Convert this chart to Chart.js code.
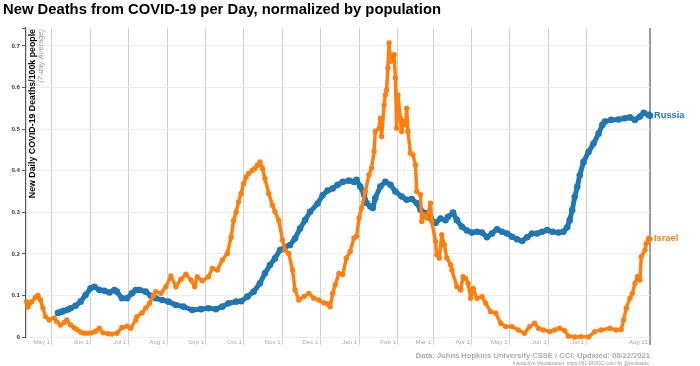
<!DOCTYPE html>
<html>
<head>
<meta charset="utf-8">
<script src="https://cdn.jsdelivr.net/npm/chart.js@4/dist/chart.umd.min.js"></script>
<style>
  html, body { margin: 0; padding: 0; background: #ffffff; }
  #wrap { width: 700px; height: 366px; position: relative; }
</style>
</head>
<body>
<div id="wrap"><canvas id="c" width="700" height="366"></canvas></div>
<script>
// Day offsets are days since 2020-05-01 (May 1, 2020 = 0)
const START_DATE = '2020-05-01';

const monthTickDays   = [0, 31, 61, 92, 123, 153, 184, 214, 245, 276, 304, 335, 365, 396, 426, 477];
const monthTickLabels = ['May 1','Jun 1','Jul 1','Aug 1','Sep 1','Oct 1','Nov 1','Dec 1','Jan 1','Feb 1','Mar 1','Apr 1','May 1','Jun 1','Jul 1','Aug 21'];

const russiaDays = [5,8,10,13,15,19,23,27,31,34,38,42,46,50,52,56,60,64,67,70,75,79,83,88,93,99,105,112,119,125,131,136,141,147,151,156,161,166,170,174,178,182,186,190,194,198,202,206,212,216,220,224,228,232,237,241,243,246,249,251,254,256,258,262,266,270,274,279,283,287,291,294,298,302,306,310,314,316,320,323,327,331,335,339,343,347,351,355,359,363,367,371,375,379,383,387,391,395,399,404,408,411,413,415,417,419,421,424,428,432,436,439,441,446,452,457,461,465,469,472,476,477];
const russiaValues = [0.058,0.061,0.063,0.066,0.069,0.075,0.085,0.101,0.117,0.121,0.113,0.111,0.107,0.113,0.109,0.093,0.093,0.105,0.113,0.113,0.109,0.099,0.093,0.089,0.085,0.077,0.073,0.065,0.067,0.069,0.067,0.073,0.081,0.085,0.086,0.097,0.109,0.129,0.153,0.173,0.189,0.209,0.217,0.221,0.237,0.261,0.281,0.301,0.321,0.341,0.352,0.357,0.366,0.373,0.376,0.373,0.378,0.362,0.342,0.322,0.314,0.310,0.334,0.362,0.373,0.366,0.350,0.338,0.330,0.332,0.322,0.306,0.298,0.286,0.274,0.285,0.281,0.289,0.299,0.281,0.265,0.256,0.251,0.253,0.251,0.240,0.249,0.259,0.253,0.249,0.241,0.235,0.231,0.240,0.249,0.249,0.253,0.257,0.253,0.251,0.253,0.264,0.281,0.305,0.337,0.361,0.389,0.421,0.445,0.465,0.489,0.510,0.518,0.522,0.523,0.526,0.528,0.522,0.530,0.539,0.534,0.532];

const israelDays = [-20,-19,-16,-13,-11,-9,-7,-5,-2,2,4,7,10,12,15,18,20,23,26,29,32,35,38,41,45,48,52,56,60,63,67,68,72,75,78,81,83,87,91,95,99,103,107,111,114,116,120,125,128,132,136,140,143,145,147,149,151,153,155,157,160,162,164,166,168,170,173,176,178,181,184,186,189,192,194,197,201,205,209,213,217,220,222,224,226,229,232,235,238,241,243,245,247,250,253,255,257,258,261,262,263,265,266,267,268,269,270,272,273,274,275,276,278,279,280,282,283,284,286,288,290,291,294,295,296,299,302,303,306,307,309,311,313,315,318,319,323,326,328,330,332,334,336,339,343,346,350,354,358,362,367,372,377,381,385,388,392,397,401,405,409,412,417,422,428,433,438,445,450,454,456,458,461,463,465,467,469,470,473,474,476,477];
const israelValues = [0.085,0.072,0.085,0.095,0.100,0.089,0.070,0.049,0.041,0.046,0.037,0.029,0.035,0.041,0.029,0.022,0.018,0.012,0.009,0.009,0.010,0.014,0.021,0.010,0.008,0.007,0.009,0.023,0.026,0.021,0.041,0.049,0.058,0.070,0.081,0.100,0.109,0.105,0.121,0.147,0.121,0.139,0.151,0.137,0.121,0.145,0.135,0.145,0.165,0.161,0.185,0.201,0.240,0.280,0.300,0.325,0.345,0.369,0.385,0.393,0.401,0.405,0.413,0.421,0.405,0.381,0.345,0.317,0.301,0.281,0.233,0.209,0.201,0.161,0.113,0.089,0.097,0.105,0.093,0.089,0.082,0.080,0.073,0.105,0.125,0.153,0.150,0.190,0.206,0.238,0.242,0.286,0.310,0.350,0.390,0.406,0.446,0.494,0.502,0.526,0.482,0.558,0.582,0.594,0.647,0.707,0.663,0.675,0.679,0.623,0.502,0.582,0.526,0.494,0.518,0.510,0.550,0.494,0.442,0.438,0.414,0.350,0.342,0.278,0.294,0.286,0.322,0.278,0.230,0.198,0.190,0.246,0.222,0.190,0.174,0.161,0.121,0.113,0.145,0.141,0.129,0.093,0.117,0.093,0.097,0.081,0.061,0.057,0.033,0.025,0.025,0.017,0.009,0.025,0.033,0.021,0.017,0.013,0.017,0.021,0.015,0.002,0.000,0.001,0.000,0.013,0.017,0.021,0.017,0.018,0.041,0.069,0.093,0.105,0.129,0.145,0.137,0.193,0.209,0.225,0.237,0.236];

const yTickValues = [0, 0.1, 0.2, 0.3, 0.4, 0.5, 0.6, 0.7];

const RUSSIA_COLOR = '#1f77b4';
const ISRAEL_COLOR = '#ff7f0e';
const FONT = '"Liberation Sans", Arial, sans-serif';

function toPoints(days, vals) { return days.map((d, i) => ({ x: d, y: vals[i] })); }

const overlay = {
  id: 'overlay',
  afterDraw(chart) {
    const ctx = chart.ctx;
    const ys = chart.scales.y;
    const area = chart.chartArea;
    ctx.save();
    // Title
    ctx.fillStyle = '#000';
    ctx.font = 'bold 14.8px ' + FONT;
    ctx.textAlign = 'left';
    ctx.textBaseline = 'alphabetic';
    ctx.fillText('New Deaths from COVID-19 per Day, normalized by population', 3, 14);

    // top bracket of y axis
    ctx.strokeStyle = '#555';
    ctx.lineWidth = 1;
    ctx.beginPath();
    ctx.moveTo(area.left - 4, area.top + 0.5);
    ctx.lineTo(area.left, area.top + 0.5);
    ctx.stroke();

    // Y axis title (rotated)
    ctx.save();
    ctx.translate(33, area.top + 1);
    ctx.rotate(-Math.PI / 2);
    ctx.textAlign = 'right';
    ctx.textBaseline = 'middle';
    ctx.fillStyle = '#000';
    ctx.font = 'bold 8.8px ' + FONT;
    ctx.fillText('New Daily COVID-19 Deaths/100k people', 0, 0);
    ctx.restore();
    ctx.save();
    ctx.translate(40.5, area.top + 1);
    ctx.rotate(-Math.PI / 2);
    ctx.textAlign = 'right';
    ctx.textBaseline = 'middle';
    ctx.fillStyle = '#999';
    ctx.font = 'italic 7.5px ' + FONT;
    ctx.fillText('(7-day Average)', 0, 0);
    ctx.restore();

    // Series end labels
    ctx.textAlign = 'left';
    ctx.textBaseline = 'middle';
    ctx.font = 'bold 9.3px ' + FONT;
    ctx.fillStyle = RUSSIA_COLOR;
    ctx.fillText('Russia', area.right + 4, ys.getPixelForValue(russiaValues[russiaValues.length - 1]));
    ctx.fillStyle = ISRAEL_COLOR;
    ctx.fillText('Israel', area.right + 4, ys.getPixelForValue(israelValues[israelValues.length - 1]));

    // Credits
    ctx.textAlign = 'right';
    ctx.textBaseline = 'alphabetic';
    ctx.fillStyle = '#aaa';
    ctx.font = 'bold 7.6px ' + FONT;
    ctx.fillText('Data: Johns Hopkins University CSSE / CCI; Updated: 08/22/2021', area.right, 358);
    ctx.fillStyle = '#999';
    ctx.font = '4.9px ' + FONT;
    ctx.fillText('Interactive Visualization: https://91-DIVOC.com/ by @profwade', area.right - 1, 364.5);
    ctx.restore();
  }
};

new Chart(document.getElementById('c'), {
  type: 'line',
  data: {
    datasets: [
      {
        label: 'Israel',
        data: toPoints(israelDays, israelValues),
        borderColor: ISRAEL_COLOR,
        backgroundColor: ISRAEL_COLOR,
        borderWidth: 3.5,
        borderJoinStyle: 'round',
        borderCapStyle: 'round',
        pointRadius: 2.7,
        pointBorderWidth: 0,
        pointBackgroundColor: ISRAEL_COLOR,
        tension: 0,
        order: 0,
        clip: 6
      },
      {
        label: 'Russia',
        data: toPoints(russiaDays, russiaValues),
        borderColor: RUSSIA_COLOR,
        backgroundColor: RUSSIA_COLOR,
        borderWidth: 5,
        borderJoinStyle: 'round',
        borderCapStyle: 'round',
        pointRadius: 3.3,
        pointBorderWidth: 0,
        pointBackgroundColor: RUSSIA_COLOR,
        tension: 0,
        order: 1,
        clip: 6
      }
    ]
  },
  options: {
    responsive: false,
    animation: false,
    devicePixelRatio: 1,
    layout: { padding: { top: 28, right: 50, left: 0, bottom: 0 } },
    plugins: {
      legend: { display: false },
      tooltip: { enabled: false },
      title: { display: false }
    },
    scales: {
      x: {
        type: 'linear',
        min: -20.5,
        max: 477,
        afterBuildTicks(scale) {
          scale.ticks = monthTickDays.map(v => ({ value: v }));
        },
        afterFit(scale) { scale.height = 29; },
        border: { display: false },
        grid: {
          color: ctx => (ctx.tick && ctx.tick.value === 477) ? '#9a9a9a' : '#cfcfcf',
          lineWidth: ctx => (ctx.tick && ctx.tick.value === 477) ? 2 : 1,
          tickLength: 8,
          drawTicks: true
        },
        ticks: {
          autoSkip: false,
          maxRotation: 0,
          minRotation: 0,
          align: 'end',
          padding: -6,
          color: '#aaa',
          font: { family: FONT, size: 6.2 },
          callback: (v) => {
            const i = monthTickDays.indexOf(v);
            return i >= 0 ? monthTickLabels[i] + ' ' : '';
          }
        }
      },
      y: {
        type: 'linear',
        min: 0,
        max: 0.743,
        afterBuildTicks(scale) {
          scale.ticks = yTickValues.map(v => ({ value: v }));
        },
        afterFit(scale) { scale.width = 26; },
        border: { display: true, color: '#555', width: 1.2 },
        grid: {
          color: '#ececec',
          tickColor: '#555',
          tickLength: 4,
          drawTicks: true
        },
        ticks: {
          padding: 2,
          color: '#333',
          font: { family: FONT, size: 6.2, weight: 'bold' },
          callback: v => (v === 0 ? '0' : v.toFixed(1))
        }
      }
    }
  },
  plugins: [overlay]
});
</script>
</body>
</html>
